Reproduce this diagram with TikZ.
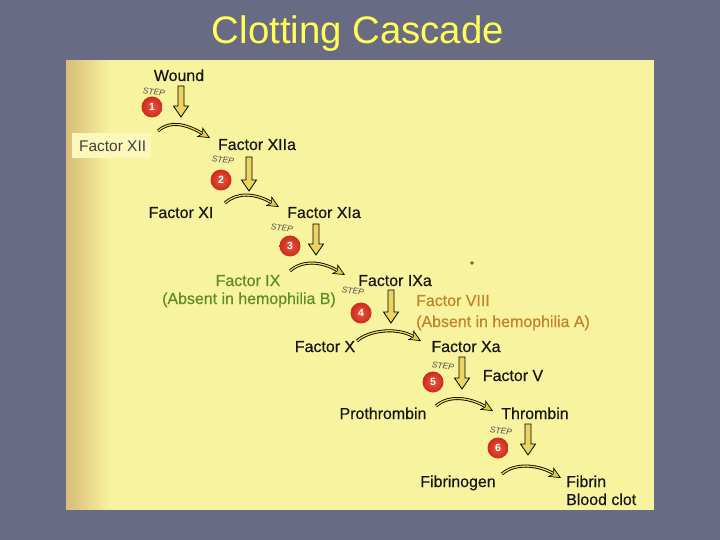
\documentclass[tikz,border=0pt]{standalone}
\usepackage{fontspec}
\setmainfont{Liberation Sans}
\newfontfamily\lblfont[FakeBold=0.35]{Liberation Sans}
\usetikzlibrary{arrows.meta,calc,fadings}
\definecolor{bg}{HTML}{696A84}
\definecolor{panel}{HTML}{F8F39E}
\definecolor{panelL}{HTML}{D9BC78}
\definecolor{titleY}{HTML}{FFFF55}
\definecolor{boxY}{HTML}{FCF8BC}
\definecolor{stepR}{HTML}{CC2B1D}
\definecolor{stepRl}{HTML}{E8573A}
\definecolor{arrY}{HTML}{E8CC44}
\definecolor{greenT}{HTML}{5E8C2C}
\definecolor{orangeT}{HTML}{C3812C}
\definecolor{txt}{HTML}{151515}
\tikzfading[name=fadeR, left color=transparent!0, right color=transparent!100]
\newcommand{\blockarrow}[2]{%
  \path (#1) coordinate (bas) (#2) coordinate (bae);
  \draw[downarr] ($(bas)+(-3,0)$) -- ($(bae)+(-3,-11)$) -- ($(bae)+(-7.5,-11)$) -- (bae)
    -- ($(bae)+(7.5,-11)$) -- ($(bae)+(3,-11)$) -- ($(bas)+(3,0)$) -- cycle;}
\newcommand{\reaction}[2]{%
  \draw[react] (#1) .. controls ($(#1)+(12,-11)$) and ($(#2)+(-24,-14)$) .. (#2);
  \draw[reactin] (#1) .. controls ($(#1)+(12,-11)$) and ($(#2)+(-24,-14)$) .. (#2);}
\begin{document}
\begin{tikzpicture}[x=1bp,y=-1bp,
  lbl/.style={font=\lblfont\fontsize{16}{18}\selectfont, text=txt, inner sep=0pt, anchor=base},
  lblw/.style={lbl, anchor=base west},
  stepnum/.style={circle, inner color=stepRl, outer color=stepR, minimum size=21bp, inner sep=0pt, text=white,
    font=\fontsize{10.5}{10.5}\selectfont\bfseries},
  steptxt/.style={font=\fontsize{8.5}{8.5}\selectfont\itshape, text=black!70, inner sep=0pt, rotate=-8},
  react/.style={draw=black, line width=3bp,
    -{Stealth[length=12bp,width=11bp,inset=3bp,line width=0.7bp,fill=arrY]}},
  reactin/.style={draw=arrY!70!panel, line width=1.3bp, shorten >=9bp},
  downarr/.style={draw=black, line width=0.8bp, fill=arrY!85!white, line join=miter}
]
\useasboundingbox (0,0) rectangle (720,540);
\fill[bg] (0,0) rectangle (720,540);
% panel
\fill[panel] (66,60) rectangle (654,510);
\fill[panelL, path fading=fadeR] (66,60) rectangle (110,510);
% title
\node[font=\fontsize{38.5}{40}\selectfont, text=titleY, anchor=base] (title) at (358,44) {Clotting Cascade};
% Factor XII box
\fill[boxY] (72,133) rectangle (151,158);
\node[lblw, font=\fontsize{15.5}{18}\selectfont, text=black!75] (f12) at (79,152) {Factor XII};
% labels
\node[lbl] (wound) at (179,81) {Wound};
\node[lbl] (f12a) at (257,150) {Factor XIIa};
\node[lbl] (f11) at (181,218) {Factor XI};
\node[lbl] (f11a) at (324,218) {Factor XIa};
\node[lbl, text=greenT] (f9) at (248,286) {Factor IX};
\node[lbl, text=greenT] (absB) at (249,304) {(Absent in hemophilia B)};
\node[lbl] (f9a) at (395,286) {Factor IXa};
\node[lblw, text=orangeT] (f8) at (416,306) {Factor VIII};
\node[lblw, text=orangeT] (absA) at (416,327) {(Absent in hemophilia A)};
\node[lbl] (f10) at (325,352) {Factor X};
\node[lbl] (f10a) at (466,352) {Factor Xa};
\node[lbl] (f5) at (513,381) {Factor V};
\node[lbl] (pro) at (383,419) {Prothrombin};
\node[lbl] (thr) at (535,419) {Thrombin};
\node[lbl] (fbg) at (458,487) {Fibrinogen};
\node[lblw] (fib) at (566,487) {Fibrin};
\node[lblw] (clot) at (566,505) {Blood clot};
% step markers
\node[steptxt] (st1) at (154,92) {STEP};
\node[stepnum] (s1) at (152,107) {1};
\node[steptxt] (st2) at (223,160) {STEP};
\node[stepnum] (s2) at (221,180) {2};
\node[steptxt] (st3) at (282,228) {STEP};
\node[stepnum] (s3) at (290,246) {3};
\node[steptxt] (st4) at (353,291) {STEP};
\node[stepnum] (s4) at (361,313) {4};
\node[steptxt] (st5) at (443,366) {STEP};
\node[stepnum] (s5) at (433,382) {5};
\node[steptxt] (st6) at (501,431) {STEP};
\node[stepnum] (s6) at (498,448) {6};
% down arrows
\coordinate (d1s) at (181,86);  \coordinate (d1e) at (181,117);
\coordinate (d2s) at (249,157); \coordinate (d2e) at (249,191);
\coordinate (d3s) at (316,224); \coordinate (d3e) at (316,255);
\coordinate (d4s) at (391,290); \coordinate (d4e) at (391,323);
\coordinate (d5s) at (462,357); \coordinate (d5e) at (462,389);
\coordinate (d6s) at (528,424); \coordinate (d6e) at (528,455);
\blockarrow{d1s}{d1e}
\blockarrow{d2s}{d2e}
\blockarrow{d3s}{d3e}
\blockarrow{d4s}{d4e}
\blockarrow{d5s}{d5e}
\blockarrow{d6s}{d6e}
% reaction curves
\coordinate (c1s) at (158,131); \coordinate (c1e) at (210,138);
\coordinate (c2s) at (225,203); \coordinate (c2e) at (279,207);
\coordinate (c3s) at (290,271); \coordinate (c3e) at (345,275);
\coordinate (c4s) at (357,341); \coordinate (c4e) at (421,341);
\coordinate (c5s) at (436,406); \coordinate (c5e) at (493,411);
\coordinate (c6s) at (502,474); \coordinate (c6e) at (561,478);
\reaction{c1s}{c1e}
\reaction{c2s}{c2e}
\reaction{c3s}{c3e}
\reaction{c4s}{c4e}
\reaction{c5s}{c5e}
\reaction{c6s}{c6e}
% small dot
\fill[brown!70!black] (472,263) circle (1.8);
\end{tikzpicture}
\end{document}
